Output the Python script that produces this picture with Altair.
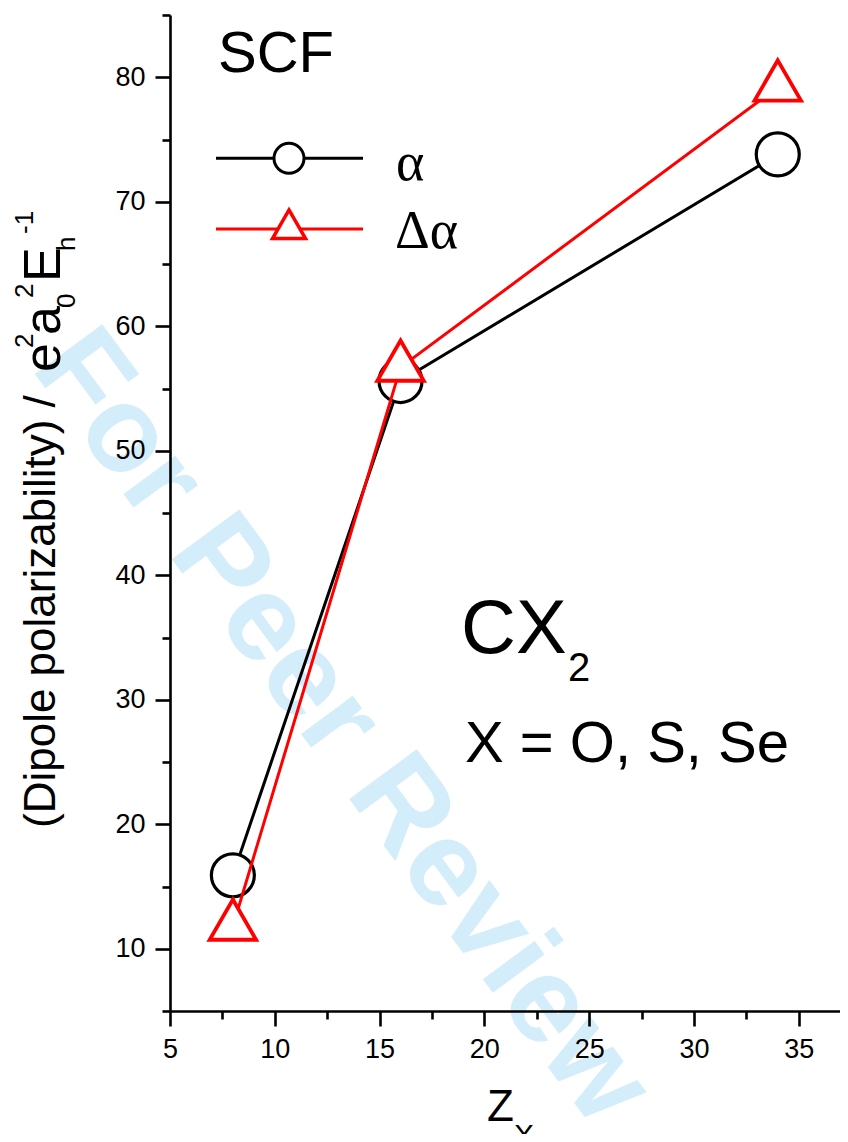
import altair as alt
import pandas as pd

# ---------------- data ----------------
z_x = [8, 16, 34]
alpha = [15.9, 55.6, 73.8]
delta_alpha = [11.8, 56.7, 79.2]

x_tick_values = [5, 7.5, 10, 12.5, 15, 17.5, 20, 22.5, 25, 27.5, 30, 32.5, 35]
y_tick_values = [5, 10, 15, 20, 25, 30, 35, 40, 45, 50, 55, 60, 65, 70, 75, 80, 85]
x_domain = [5, 36.97]
y_domain = [5, 85]

df_a = pd.DataFrame({"Z": z_x, "v": alpha})
df_d = pd.DataFrame({"Z": z_x, "v": delta_alpha})
one = pd.DataFrame({"k": [0]})

FONT = "Liberation Sans"
SERIF = "Liberation Serif, DejaVu Serif, serif"
TRI = "M0,-1.1547L1,0.5774L-1,0.5774Z"  # equilateral triangle, centroid at origin
RED = "#ff0000"


def make_axis(values, step, orient):
    return alt.Axis(
        values=values, orient=orient, title=None, grid=False, zindex=1,
        domainColor="black", domainWidth=2.6,
        tickColor="black", tickWidth=2.6,
        tickSize={"condition": {"test": f"datum.value % {step} === 0", "value": 15}, "value": 8},
        labelExpr=f"datum.value % {step} === 0 ? datum.label : ''",
        labelFont=FONT, labelFontSize=27, labelColor="black", labelPadding=10,
        labelFlush=False, labelOverlap=False,
    )


xs = alt.Scale(domain=x_domain, nice=False, zero=False)
ys = alt.Scale(domain=y_domain, nice=False, zero=False)
X = alt.X("Z:Q", scale=xs, axis=make_axis(x_tick_values, 5, "bottom"))
Y = alt.Y("v:Q", scale=ys, axis=make_axis(y_tick_values, 10, "left"))

# watermark (underneath everything)
watermark = alt.Chart(one).mark_text(
    text="For Peer Review", font=FONT, fontWeight="bold", fontSize=122,
    color="#d4edfa", angle=53.5, align="center", baseline="middle",
).encode(x=alt.value(172), y=alt.value(712))

line_a = alt.Chart(df_a).mark_line(color="black", strokeWidth=3).encode(x=X, y=Y)
pts_a = alt.Chart(df_a).mark_point(
    shape="circle", filled=True, fill="white", stroke="black",
    strokeWidth=3.2, size=1849, opacity=1,
).encode(x=X, y=Y)
line_d = alt.Chart(df_d).mark_line(color=RED, strokeWidth=3).encode(x=X, y=Y)
pts_d = alt.Chart(df_d).mark_point(
    shape=TRI, filled=True, fill="white", stroke=RED,
    strokeWidth=3.8, size=2160, opacity=1,
).encode(x=X, y=Y)

# legend (hand-built, like the original)
leg_line_a = alt.Chart(one).mark_rule(color="black", strokeWidth=3).encode(
    x=alt.value(46), x2=alt.value(193), y=alt.value(143.3))
leg_pt_a = alt.Chart(one).mark_point(
    shape="circle", filled=True, fill="white", stroke="black",
    strokeWidth=3, size=900, opacity=1).encode(x=alt.value(119), y=alt.value(143.3))
leg_line_d = alt.Chart(one).mark_rule(color=RED, strokeWidth=3).encode(
    x=alt.value(46), x2=alt.value(193), y=alt.value(214))
leg_pt_d = alt.Chart(one).mark_point(
    shape=TRI, filled=True, fill="white", stroke=RED,
    strokeWidth=3.5, size=1089, opacity=1).encode(x=alt.value(119), y=alt.value(214))


def txt(text, x, y, size, font=FONT, angle=0, align="left", baseline="alphabetic"):
    kw = dict(text=text, font=font, fontSize=size, color="black",
              align=align, baseline=baseline)
    if angle:
        kw["angle"] = angle
    return alt.Chart(one).mark_text(**kw).encode(x=alt.value(x), y=alt.value(y))


texts = [
    txt("SCF", 48, 57, 58),
    txt("α", 226, 165, 54, font=SERIF),
    txt("Δα", 225, 233, 54, font=SERIF),
    txt("CX", 291, 638, 76),
    txt("2", 398, 666, 40),
    txt("X = O, S, Se", 295, 747, 58),
    # x title Z_X
    txt("Z", 317, 1106, 44),
    txt("X", 344, 1130, 30),
    # y title, rotated
    txt("(Dipole polarizability) / ", -115, 813, 44, angle=270),
    txt("e", -110, 357, 52, angle=270),
    txt("2", -137, 333, 26, angle=270),
    txt("a", -110, 320, 52, angle=270),
    txt("0", -95, 293, 26, angle=270),
    txt("2", -137, 283, 26, angle=270),
    txt("E", -110, 267, 52, angle=270),
    txt("h", -95, 236, 26, angle=270),
    txt("-1", -137, 219, 26, angle=270),
]

chart = alt.layer(
    watermark, line_a, pts_a, line_d, pts_d,
    leg_line_a, leg_pt_a, leg_line_d, leg_pt_d, *texts,
).properties(
    width=670, height=996,
    padding={"left": 162, "top": 7, "right": 0, "bottom": 123},
    autosize=alt.AutoSizeParams(type="none"),
    background="white",
).configure_view(strokeWidth=0)

chart.save("out.html", embed_options={"renderer": "svg", "actions": False})
